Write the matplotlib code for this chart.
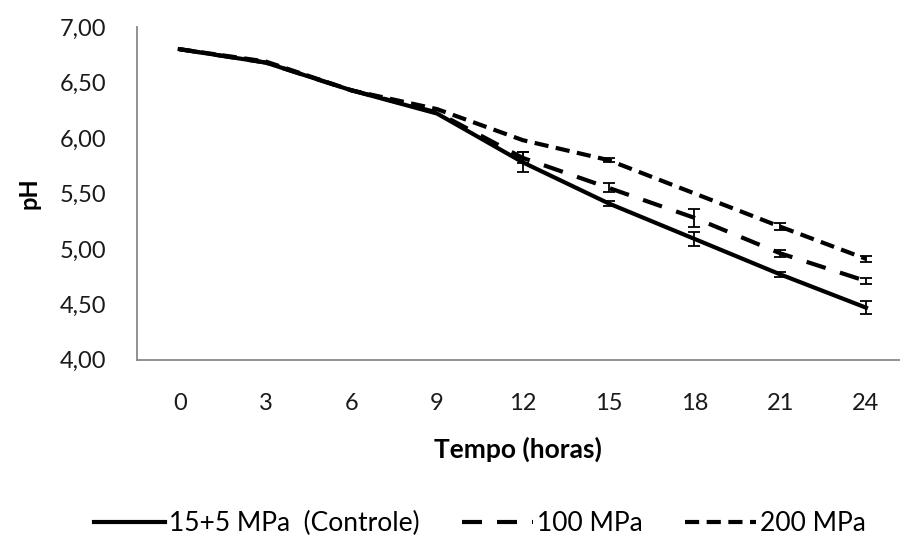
import numpy as np
import matplotlib.pyplot as plt

plt.rcParams['font.family'] = ['Lato', 'DejaVu Sans']

horas = [0, 3, 6, 9, 12, 15, 18, 21, 24]
controle = [6.80, 6.68, 6.43, 6.22, 5.78, 5.41, 5.09, 4.77, 4.47]
mpa100 = [6.80, 6.68, 6.43, 6.23, 5.82, 5.55, 5.28, 4.96, 4.71]
mpa200 = [6.80, 6.69, 6.43, 6.26, 5.98, 5.80, 5.50, 5.20, 4.91]
err_controle = [0, 0, 0, 0, 0.09, 0.02, 0.06, 0.02, 0.06]
err_100 = [0, 0, 0, 0, 0.05, 0.04, 0.08, 0.03, 0.03]
err_200 = [0, 0, 0, 0, 0, 0.02, 0, 0.03, 0.03]

fig = plt.figure(figsize=(9, 5.41), dpi=100)
ax = fig.add_axes([0.152, 0.335, 0.848, 0.615])

series = [
    (controle, err_controle, '15+5 MPa  (Controle)', '-'),
    (mpa100, err_100, '100 MPa', (0, (4.8, 3.6))),
    (mpa200, err_200, '200 MPa', (0, (3.4, 1.8))),
]
for vals, err, lab, ls in series:
    ax.plot(horas, vals, color='black', lw=3, linestyle=ls, label=lab)
    # error bars only where the original shows them
    idx = [i for i, e in enumerate(err) if e > 0]
    ax.errorbar([horas[i] for i in idx], [vals[i] for i in idx],
                yerr=[err[i] for i in idx], fmt='none', ecolor='black',
                elinewidth=1.3, capsize=4, capthick=1.3)

ax.set_xlim(-1.5, 25.19)
ax.set_ylim(4, 7)
ax.set_xticks(horas)
ax.set_yticks(np.arange(4, 7.01, 0.5))
ax.set_yticklabels([('%.2f' % v).replace('.', ',') for v in np.arange(4, 7.01, 0.5)])
ax.tick_params(length=0, labelsize=17, labelcolor='#1a1a1a')
ax.tick_params(axis='x', pad=24)
ax.tick_params(axis='y', pad=22)
for s in ['top', 'right']:
    ax.spines[s].set_visible(False)
for s in ['left', 'bottom']:
    ax.spines[s].set_color('#888888')
    ax.spines[s].set_linewidth(1.3)

ax.set_xlabel('Tempo (horas)', fontsize=19, fontweight='bold', labelpad=16)
ax.set_ylabel('pH', fontsize=17, fontweight='bold', labelpad=14)

fig.legend(loc='lower center', bbox_to_anchor=(0.533, -0.035), ncol=3, frameon=False,
           fontsize=19, handlelength=2.7, columnspacing=1.6, handletextpad=0.15)

fig.savefig('out.png', dpi=100)
